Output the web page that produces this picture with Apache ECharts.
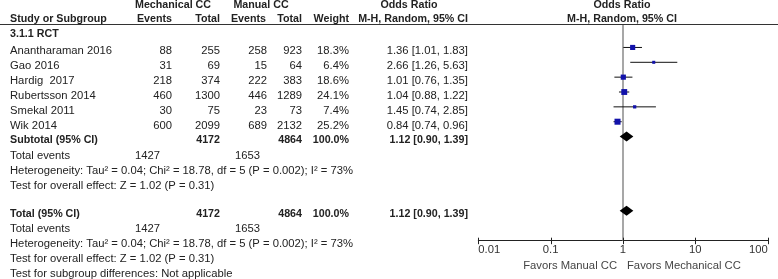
<!DOCTYPE html>
<html>
<head>
<meta charset="utf-8">
<script src="https://cdn.jsdelivr.net/npm/echarts@6/dist/echarts.min.js"></script>
<style>
html,body{margin:0;padding:0;background:#fff;}
#c{width:778px;height:279px;}
</style>
</head>
<body>
<div id="c"></div>
<script>
// ---- data ----
const studies = ['Anantharaman 2016', 'Gao 2016', 'Hardig  2017', 'Rubertsson 2014', 'Smekal 2011', 'Wik 2014'];
const mechEvents = [88, 31, 218, 460, 30, 600];
const mechTotal = [255, 69, 374, 1300, 75, 2099];
const manEvents = [258, 15, 222, 446, 23, 689];
const manTotal = [923, 64, 383, 1289, 73, 2132];
const weights = [18.3, 6.4, 18.6, 24.1, 7.4, 25.2];
const orEst = [1.36, 2.66, 1.01, 1.04, 1.45, 0.84];
const orLo = [1.01, 1.26, 0.76, 0.88, 0.74, 0.74];
const orHi = [1.83, 5.63, 1.35, 1.22, 2.85, 0.96];
const pooledOR = [1.12, 0.90, 1.39];
const sumTotals = [4172, 4864];
const sumEvents = [1427, 1653];
const xTicks = [0.01, 0.1, 1, 10, 100];
const xTickLabels = ['0.01', '0.1', '1', '10', '100'];
const studyRows = [1, 2, 3, 4, 5, 6];
const subtotalRow = 7;
const totalRow = 12;
const heteroText = 'Heterogeneity: Tau\u00b2 = 0.04; Chi\u00b2 = 18.78, df = 5 (P = 0.002); I\u00b2 = 73%';
const overallText = 'Test for overall effect: Z = 1.02 (P = 0.31)';

// ---- layout ----
const FF = '"Liberation Sans", Arial, sans-serif';
const FS = 11.25;
const FSB = 10.7;
const TXT = '#222';
const AXIS_ROW = 14.013;
function rowY(r) { return r === 0 ? 34 : (r <= 10 ? 35.5 + 15 * r : 214 + 15 * (r - 12)); }
const g = [];
function T(text, x, y, align, bold, color) {
  g.push({ type: 'text', x: x, y: y, silent: true,
    style: { text: String(text), fill: color || TXT, font: (bold ? 'bold ' + FSB : FS) + 'px ' + FF,
      align: align || 'left', verticalAlign: 'middle' } });
}
const colX = { name: 10, ev1: 172, tot1: 220, ev2: 267, tot2: 302, w: 349, or: 468 };
// headers
T('Mechanical CC', 173, 5.5, 'center', true);
T('Manual CC', 261, 5.5, 'center', true);
T('Odds Ratio', 409, 5.5, 'center', true);
T('Odds Ratio', 622, 5.5, 'center', true);
T('Study or Subgroup', colX.name, 19.5, 'left', true);
T('Events', colX.ev1, 19.5, 'right', true);
T('Total', colX.tot1, 19.5, 'right', true);
T('Events', colX.ev2 - 1, 19.5, 'right', true);
T('Total', colX.tot2, 19.5, 'right', true);
T('Weight', colX.w, 19.5, 'right', true);
T('M-H, Random, 95% CI', colX.or, 19.5, 'right', true);
T('M-H, Random, 95% CI', 622, 19.5, 'center', true);
g.push({ type: 'line', silent: true, shape: { x1: 0, y1: 24.5, x2: 778, y2: 24.5 }, style: { stroke: '#333', lineWidth: 1 } });
T('3.1.1 RCT', colX.name, rowY(0), 'left', true);
const fmt2 = v => v.toFixed(2);
studies.forEach((s, i) => {
  const y = rowY(studyRows[i]);
  T(s, colX.name, y, 'left');
  T(mechEvents[i], colX.ev1, y, 'right');
  T(mechTotal[i], colX.tot1, y, 'right');
  T(manEvents[i], colX.ev2, y, 'right');
  T(manTotal[i], colX.tot2, y, 'right');
  T(weights[i].toFixed(1) + '%', colX.w, y, 'right');
  T(fmt2(orEst[i]) + ' [' + fmt2(orLo[i]) + ', ' + fmt2(orHi[i]) + ']', colX.or, y, 'right');
});
function summary(r, label) {
  const y = rowY(r);
  T(label, colX.name, y, 'left', true);
  T(sumTotals[0], colX.tot1, y, 'right', true);
  T(sumTotals[1], colX.tot2, y, 'right', true);
  T('100.0%', colX.w, y, 'right', true);
  T(fmt2(pooledOR[0]) + ' [' + fmt2(pooledOR[1]) + ', ' + fmt2(pooledOR[2]) + ']', colX.or, y, 'right', true);
  T('Total events', colX.name, rowY(r + 1), 'left');
  T(sumEvents[0], 160, rowY(r + 1), 'right');
  T(sumEvents[1], 260, rowY(r + 1), 'right');
  T(heteroText, colX.name, rowY(r + 2), 'left');
  T(overallText, colX.name, rowY(r + 3), 'left');
}
summary(subtotalRow, 'Subtotal (95% CI)');
summary(totalRow, 'Total (95% CI)');
T('Test for subgroup differences: Not applicable', colX.name, rowY(16), 'left');
T('Favors Manual CC', 617, 266, 'right', false, '#444');
T('Favors Mechanical CC', 627, 266, 'left', false, '#444');

// ---- chart ----
const chart = echarts.init(document.getElementById('c'), null, { renderer: 'canvas' });
const ciData = studyRows.map((r, i) => [orLo[i], orHi[i], r]);
const sqData = studyRows.map((r, i) => [orEst[i], r, weights[i]]);
const dmData = [[pooledOR[0], pooledOR[1], pooledOR[2], subtotalRow], [pooledOR[0], pooledOR[1], pooledOR[2], totalRow]];
const tickData = xTicks.map(t => [t, AXIS_ROW]);
chart.setOption({
  animation: false,
  grid: { left: 478.3, right: 10.3, top: 25, bottom: 38.3, outerBoundsMode: 'none' },
  xAxis: {
    type: 'log', logBase: 10, min: xTicks[0], max: xTicks[xTicks.length - 1], position: 'bottom',
    splitLine: { show: false },
    axisLine: { show: true, onZero: false, lineStyle: { color: '#222', width: 1 } },
    axisTick: { show: false },
    axisLabel: { show: true, margin: 4, color: '#333', fontSize: FS, fontFamily: FF,
      alignMinLabel: 'left', alignMaxLabel: 'right',
      formatter: v => { const k = xTicks.findIndex(t => Math.abs(Math.log10(t) - Math.log10(v)) < 1e-6); return k >= 0 ? xTickLabels[k] : ''; } }
  },
  yAxis: { type: 'value', min: -0.512, max: AXIS_ROW, inverse: true, show: false, splitLine: { show: false } },
  series: [
    {
      type: 'custom', z: 2, data: ciData, encode: { x: [0, 1], y: 2 },
      renderItem: (params, api) => {
        const a = api.coord([api.value(0), api.value(2)]);
        const b = api.coord([api.value(1), api.value(2)]);
        return { type: 'line', shape: { x1: a[0], y1: a[1], x2: b[0], y2: b[1] }, style: { stroke: '#111', lineWidth: 1 } };
      },
      markLine: { silent: true, symbol: 'none', label: { show: false }, z: 1,
        lineStyle: { color: '#8a8a8a', width: 1.5, type: 'solid' }, data: [{ xAxis: 1 }] }
    },
    {
      type: 'custom', z: 5, data: tickData, encode: { x: 0, y: 1 },
      renderItem: (params, api) => {
        const p = api.coord([api.value(0), api.value(1)]);
        const x = Math.round(p[0]) + 0.5;
        return { type: 'line', shape: { x1: x, y1: p[1] - 3, x2: x, y2: p[1] + 3.5 }, style: { stroke: '#222', lineWidth: 1 } };
      }
    },
    {
      type: 'scatter', z: 3, data: sqData, symbol: 'rect',
      symbolSize: v => 1.2 * Math.sqrt(v[2]),
      itemStyle: { color: '#1212aa', opacity: 1 }
    },
    {
      type: 'custom', z: 4, data: dmData, encode: { x: [0, 1, 2], y: 3 },
      renderItem: (params, api) => {
        const c = api.coord([api.value(0), api.value(3)]);
        const l = api.coord([api.value(1), api.value(3)]);
        const r = api.coord([api.value(2), api.value(3)]);
        const h = 5;
        return { type: 'polygon', shape: { points: [[l[0], c[1]], [c[0], c[1] - h], [r[0], c[1]], [c[0], c[1] + h]] }, style: { fill: '#000' } };
      }
    }
  ],
  graphic: { elements: g }
});
</script>
</body>
</html>
